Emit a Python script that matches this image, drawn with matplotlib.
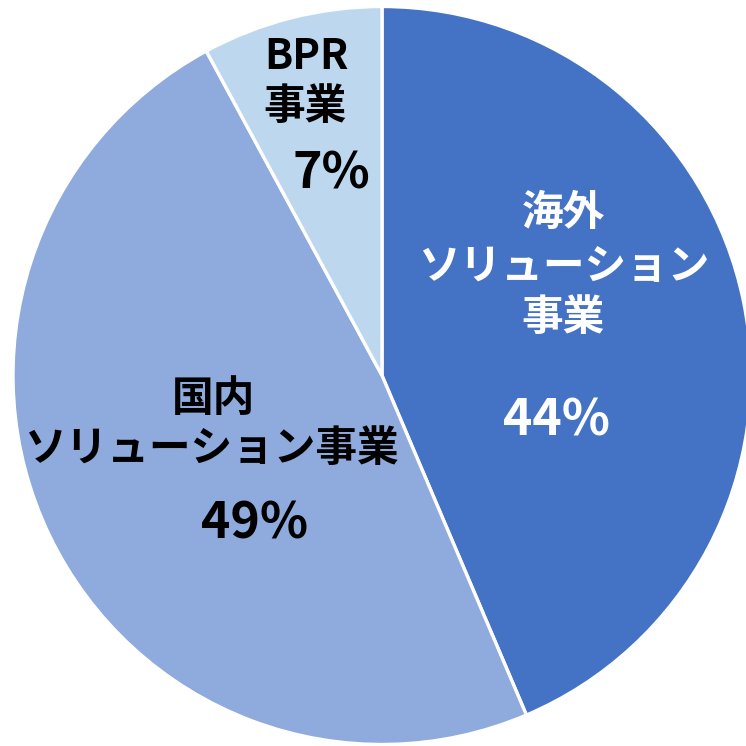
import matplotlib
matplotlib.use("Agg")
import matplotlib.pyplot as plt

plt.rcParams['font.family'] = ['Noto Sans CJK JP', 'DejaVu Sans']

# Data (clockwise from 12 o'clock)
categories = ["海外\nソリューション\n事業", "国内\nソリューション事業", "BPR\n事業"]
values = [43.6, 48.5, 7.9]
pct_labels = ["44%", "49%", "7%"]
colors = ["#4472C4", "#8FAADC", "#BDD7EE"]
text_colors = ["white", "black", "black"]

W = H = 746
DPI = 100
fig = plt.figure(figsize=(W / DPI, H / DPI), dpi=DPI)
ax = fig.add_axes([0, 0, 1, 1])

# pie geometry in pixels
cx, cy, R = 382, 375.5, 369.0

ax.pie(values, colors=colors, startangle=90, counterclock=False, radius=1,
       wedgeprops=dict(edgecolor="white", linewidth=2.4))

ax.set_xlim(-cx / R, (W - cx) / R)
ax.set_ylim(-(H - cy) / R, cy / R)
ax.set_aspect('equal')
ax.axis('off')


def px(x, y):
    return (x - cx) / R, (cy - y) / R


# label layout (pixel centres of each line)
cat_lines_pos = [
    [(563, 213), (564, 267), (563, 318)],
    [(213, 399), (211, 449)],
    [(306, 57), (305, 107)],
]
pct_pos = [(556, 421), (255, 524), (331, 174)]

for cat, lines_pos, pct, ppos, tc in zip(categories, cat_lines_pos, pct_labels, pct_pos, text_colors):
    for line, (x, y) in zip(cat.split("\n"), lines_pos):
        tx, ty = px(x, y)
        ax.text(tx, ty, line, ha='center', va='center', fontsize=30,
                fontweight='bold', color=tc)
    tx, ty = px(*ppos)
    ax.text(tx, ty, pct, ha='center', va='center', fontsize=36,
            fontweight='bold', color=tc)

fig.savefig("out.png", dpi=DPI, facecolor="white")
